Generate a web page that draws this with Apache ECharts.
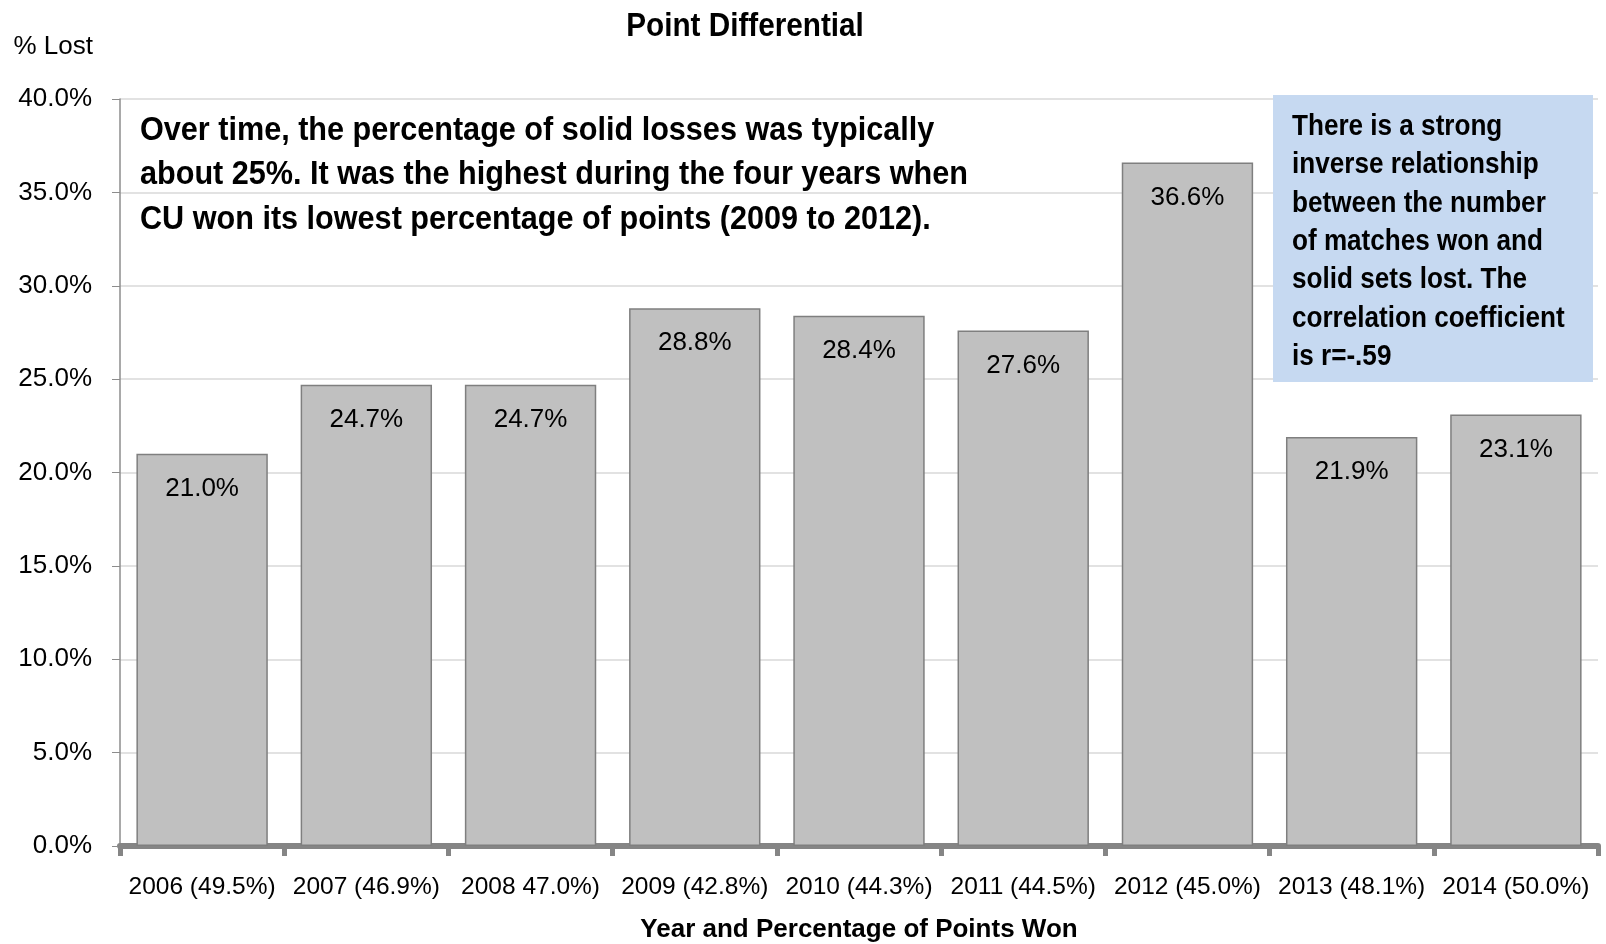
<!DOCTYPE html>
<html lang="en">
<head>
    <meta charset="UTF-8">
    <title>Point Differential</title>
    <script src="https://cdn.jsdelivr.net/npm/echarts@6/dist/echarts.min.js"></script>
    <style>
        html, body { margin: 0; padding: 0; background: #fff; }
        #chart { width: 1606px; height: 944px; }
    </style>
</head>
<body>
<div id="chart"></div>
<script>
    const years = ['2006 (49.5%)', '2007 (46.9%)', '2008 47.0%)', '2009 (42.8%)', '2010 (44.3%)',
        '2011 (44.5%)', '2012 (45.0%)', '2013 (48.1%)', '2014 (50.0%)'];
    const pctLost = [21.0, 24.7, 24.7, 28.8, 28.4, 27.6, 36.6, 21.9, 23.1];
    const noteLeft = 'Over time, the percentage of solid losses was typically\nabout 25%. It was the highest during the four years when\nCU won its lowest percentage of points (2009 to 2012).';
    const noteRight = 'There is a strong\ninverse relationship\nbetween the number\nof matches won and\nsolid sets lost. The\ncorrelation coefficient\nis r=-.59';

    // no narrow font here, so plain Liberation Sans, squeezed where it's a graphic
    const font = '"Liberation Sans", Arial, sans-serif';
    const squeeze = 0.9;

    const option = {
        animation: false,
        textStyle: { fontFamily: font },
        grid: { left: 120, right: 8, top: 99, bottom: 98, containLabel: false, outerBoundsMode: 'none' },
        xAxis: {
            type: 'category',
            data: years,
            name: 'Year and Percentage of Points Won',
            nameLocation: 'middle',
            nameGap: 71,
            nameTextStyle: { fontFamily: font, fontSize: 26, fontWeight: 'bold', color: '#000' },
            axisLine: { lineStyle: { color: '#858585', width: 6 } },
            axisTick: { show: true, length: 10, lineStyle: { color: '#858585', width: 5 } },
            axisLabel: { fontFamily: font, fontSize: 24.5, color: '#000', margin: 29, interval: 0 }
        },
        yAxis: {
            type: 'value',
            min: 0,
            max: 40,
            interval: 5,
            name: '% Lost',
            nameLocation: 'end',
            nameGap: 39,
            nameTextStyle: { fontFamily: font, fontSize: 26, color: '#000', align: 'right', padding: [0, 27, 0, 0] },
            axisLine: { show: true, lineStyle: { color: '#8c8c8c', width: 1.5 } },
            axisTick: { show: true, length: 8, lineStyle: { color: '#8c8c8c' } },
            axisLabel: { fontFamily: font, fontSize: 26, color: '#000', margin: 28,
                formatter: v => v.toFixed(1) + '%' },
            splitLine: { lineStyle: { color: '#d9d9d9', width: 1.5 } }
        },
        series: [{
            type: 'bar',
            data: pctLost,
            barCategoryGap: '20%',
            itemStyle: { color: '#c0c0c0', borderColor: '#7f7f7f', borderWidth: 1.5 },
            label: {
                show: true,
                position: 'insideTop',
                distance: 22,
                fontFamily: font,
                fontSize: 26,
                color: '#000',
                formatter: p => p.value.toFixed(1) + '%'
            }
        }],
        graphic: [
            {
                type: 'text',
                x: 745,
                y: 27,
                z: 100,
                scaleX: squeeze,
                style: {
                    text: 'Point Differential',
                    font: 'bold 33px ' + font,
                    align: 'center',
                    verticalAlign: 'middle',
                    fill: '#000'
                }
            },
            {
                type: 'text',
                x: 140,
                y: 108,
                z: 100,
                scaleX: squeeze,
                style: {
                    text: noteLeft,
                    font: 'bold 34px ' + font,
                    lineHeight: 44.5,
                    align: 'left',
                    verticalAlign: 'top',
                    fill: '#000'
                }
            },
            {
                type: 'rect',
                x: 1273,
                y: 95,
                z: 100,
                shape: { width: 320, height: 287 },
                style: { fill: '#c6d9f1' }
            },
            {
                type: 'text',
                x: 1292,
                y: 108,
                z: 101,
                scaleX: squeeze,
                style: {
                    text: noteRight,
                    font: 'bold 29px ' + font,
                    lineHeight: 38.3,
                    align: 'left',
                    verticalAlign: 'top',
                    fill: '#000'
                }
            }
        ]
    };

    const chart = echarts.init(document.getElementById('chart'));
    chart.setOption(option);
</script>
</body>
</html>
